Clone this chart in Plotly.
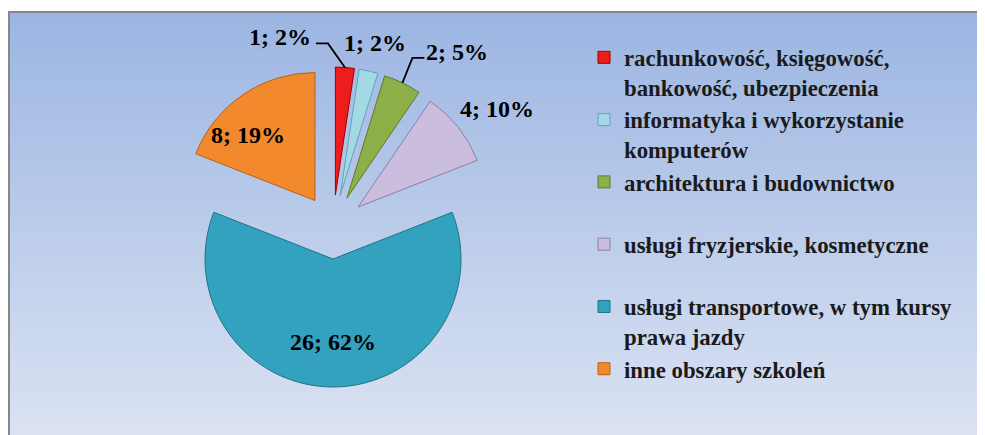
import base64
import math
import plotly.graph_objects as go

# ---- data ----
categories = [
    "rachunkowość, księgowość,<br>bankowość, ubezpieczenia",
    "informatyka i wykorzystanie<br>komputerów",
    "architektura i budownictwo",
    "usługi fryzjerskie, kosmetyczne",
    "usługi transportowe, w tym kursy<br>prawa jazdy",
    "inne obszary szkoleń",
]
values = [1, 1, 2, 4, 26, 8]

# ---- style ----
colors = ["#EE1C1C", "#A3D8E5", "#8DAF48", "#CBBDDE", "#33A2BE", "#F28A2D"]
edge_colors = ["#A00000", "#5FA6B8", "#5E7A2A", "#8F7EA6", "#1F7288", "#B8601A"]
PULL = 0.25
# label offsets (px) from the outer-middle point of each (pulled) slice
label_offsets = [(-65, -30), (6, -28), (55, -31), (39, -18), (0, -45), (5, 40)]
# leader lines: (start, elbow) offsets from the outer-middle point
leaders = {0: [(-29, -24), (-17, -24)], 2: [(22, -25), (10, -25)]}

# figure size chosen to fit the page area next to the 8px body margin
W, H = 969, 427
OX, OY = 8, 8            # page margin of the html body
CX, CY = 333, 227        # pie centre on screen
R_OUT = 160              # radius + pull, px


def px(sx):
    return (sx - OX) / W


def py(sy):
    return 1 - (sy - OY) / H


total = sum(values)
legend_labels = [c if "<br>" in c else c + "<br> " for c in categories]
legend_labels[-1] = categories[-1]

fig = go.Figure()
fig.add_trace(go.Pie(
    labels=legend_labels,
    values=values,
    sort=False,
    direction="clockwise",
    rotation=0,
    pull=[PULL] * len(values),
    marker=dict(colors=colors, line=dict(color=edge_colors, width=1)),
    textinfo="none",
    domain=dict(x=[px(CX - R_OUT), px(CX + R_OUT)], y=[py(CY + R_OUT), py(CY - R_OUT)]),
    automargin=False,
    hoverinfo="label+value+percent",
))

annotations = []
shapes = []
cum = 0
for i, v in enumerate(values):
    mid = (cum + v / 2) / total * 2 * math.pi
    cum += v
    ax = CX + R_OUT * math.sin(mid)
    ay = CY - R_OUT * math.cos(mid)
    dx, dy = label_offsets[i]
    annotations.append(dict(
        x=px(ax), y=py(ay), xref="paper", yref="paper",
        xshift=dx, yshift=-dy, showarrow=False,
        text=f"{v}; {round(100 * v / total)}%",
        font=dict(family="Liberation Serif", size=24, color="#000000", weight="bold"),
        xanchor="center", yanchor="middle",
    ))
    if i in leaders:
        (s1, s2), (e1, e2) = leaders[i]
        path = (f"M {px(ax + s1)} {py(ay + s2)} L {px(ax + e1)} {py(ay + e2)} "
                f"L {px(ax)} {py(ay)}")
        shapes.append(dict(type="path", xref="paper", yref="paper", path=path,
                           line=dict(color="#000000", width=1.8)))

svg = (
    '<svg xmlns="http://www.w3.org/2000/svg" width="977" height="424" preserveAspectRatio="none">'
    '<defs><linearGradient id="g" x1="0" y1="0" x2="0" y2="1">'
    '<stop offset="0" stop-color="#9BB5E2"/>'
    '<stop offset="1" stop-color="#DEE5F3"/>'
    '</linearGradient></defs>'
    '<rect width="977" height="424" fill="url(#g)"/></svg>'
)
uri = "data:image/svg+xml;base64," + base64.b64encode(svg.encode()).decode()

shapes.append(dict(
    type="rect", xref="paper", yref="paper",
    x0=px(9), x1=1.05, y0=-0.05, y1=py(12),
    line=dict(color="#878787", width=2), layer="above",
))

fig.update_layout(
    width=W,
    height=H,
    margin=dict(l=0, r=0, t=0, b=0),
    paper_bgcolor="white",
    showlegend=True,
    legend=dict(
        x=px(584), y=py(36), xanchor="left", yanchor="top",
        font=dict(family="Liberation Serif", size=22.8, color="#1A1A1A", weight="bold"),
        valign="top",
        bgcolor="rgba(0,0,0,0)",
        traceorder="normal",
    ),
    images=[dict(
        source=uri, xref="paper", yref="paper",
        x=px(8), y=py(11), sizex=1.05, sizey=1.05,
        sizing="stretch", layer="below", xanchor="left", yanchor="top",
    )],
    shapes=shapes,
    annotations=annotations,
)

fig.write_html("out.html")
